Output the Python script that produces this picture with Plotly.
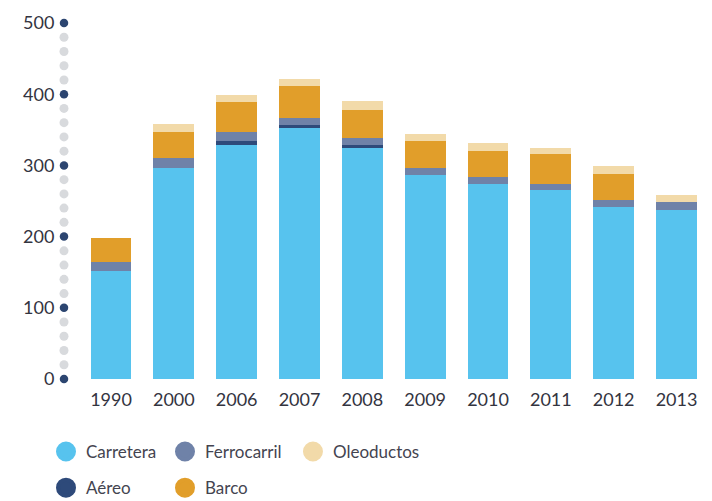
import plotly.graph_objects as go

years = ["1990", "2000", "2006", "2007", "2008", "2009", "2010", "2011", "2012", "2013"]
carretera = [151, 297, 329, 352, 324, 287, 274, 266, 242, 237]
aereo = [0, 0, 5, 5, 4, 0, 0, 0, 0, 0]
ferrocarril = [13, 13, 13, 9, 10, 10, 10, 8, 9, 11]
barco = [34, 37, 42, 46, 40, 37, 36, 42, 37, 0]
oleoductos = [0, 11, 10, 10, 13, 10, 11, 9, 11, 10]

y_ticks = [0, 100, 200, 300, 400, 500]
minor_step = 20

series = [
    ("Carretera", carretera, "#57C3EE", "legend"),
    ("Aéreo", aereo, "#2E4A7A", "legend"),
    ("Ferrocarril", ferrocarril, "#6F82A8", "legend2"),
    ("Barco", barco, "#E19E2A", "legend2"),
    ("Oleoductos", oleoductos, "#F2DAA9", "legend3"),
]

FONT = "Lato"
TXT = "#33343f"

fig = go.Figure()
for name, vals, color, lg in series:
    fig.add_trace(go.Bar(x=years, y=vals, name=name, marker=dict(color=color, line=dict(width=0)),
                         width=0.65, showlegend=False))

# legend entries with round symbols (one legend per column)
for name, _, color, lg in series:
    fig.add_trace(go.Scatter(x=[None], y=[None], mode="markers", name=name, legend=lg,
                             legendgroup=name,
                             marker=dict(color=color, size=16, symbol="circle",
                                         line=dict(color=color, width=4))))

# dotted axis
minor_vals = [v for v in range(0, 501, minor_step) if v not in y_ticks]
fig.add_trace(go.Scatter(x=[0] * len(minor_vals), y=minor_vals, xaxis="x2", mode="markers",
                         marker=dict(color="#D8DADD", size=9), showlegend=False, cliponaxis=False,
                         hoverinfo="skip"))
fig.add_trace(go.Scatter(x=[0] * len(y_ticks), y=y_ticks, xaxis="x2", mode="markers",
                         marker=dict(color="#2C4570", size=8.5), showlegend=False, cliponaxis=False,
                         hoverinfo="skip"))

legend_common = dict(orientation="v", xanchor="left", yanchor="top", y=-0.1545,
                     traceorder="grouped", tracegroupgap=11,
                     font=dict(size=17, color="#444450", family=FONT),
                     itemsizing="trace", bgcolor="rgba(0,0,0,0)")

fig.update_layout(
    width=704, height=493,
    margin=dict(l=56, r=12, t=15, b=122, autoexpand=False),
    barmode="stack",
    plot_bgcolor="white", paper_bgcolor="white",
    font=dict(family=FONT, color=TXT, size=18),
    xaxis=dict(range=[-0.748, 9.374], showgrid=False, zeroline=False, showline=False,
               ticks="outside", ticklen=4, tickcolor="rgba(0,0,0,0)",
               tickfont=dict(size=18, color=TXT)),
    xaxis2=dict(overlaying="x", range=[0, 1], visible=False),
    yaxis=dict(range=[0, 500], tickvals=y_ticks, showgrid=False, zeroline=False, showline=False,
               ticks="outside", ticklen=5, tickcolor="rgba(0,0,0,0)",
               tickfont=dict(size=18, color=TXT)),
    legend=dict(x=-0.0283, **legend_common),
    legend2=dict(x=0.1588, **legend_common),
    legend3=dict(x=0.360, **legend_common),
)

fig.write_html("out.html")
